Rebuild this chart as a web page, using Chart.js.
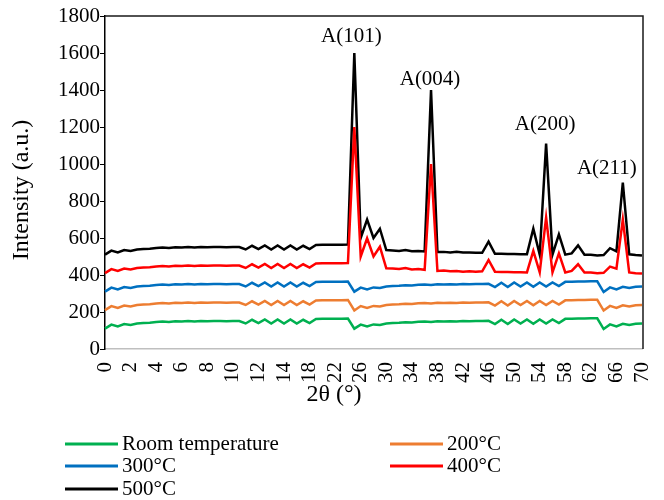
<!DOCTYPE html>
<html>
<head>
<meta charset="utf-8">
<script src="https://cdn.jsdelivr.net/npm/chart.js@4.4.1/dist/chart.umd.min.js"></script>
<style>
    html, body { margin: 0; padding: 0; background: #fff; }
</style>
</head>
<body>
<canvas id="xrdChart" width="664" height="500"></canvas>
<script>
// 2θ categories (0-14 in 0.5 steps, then 15-70 in 1 steps)
const angles = ['0','0.5','1','1.5','2','2.5','3','3.5','4','4.5','5','5.5','6','6.5','7','7.5','8','8.5','9','9.5','10','10.5','11','11.5','12','12.5','13','13.5','14',
    '15','16','17','18','19','20','21','22','23','24','25','26','27','28','29','30','31','32','33','34','35','36','37','38','39','40','41','42',
    '43','44','45','46','47','48','49','50','51','52','53','54','55','56','57','58','59','60','61','62','63','64','65','66','67','68','69','70'];

const roomTemp = [110,132,122,135,130,138,140,142,146,148,146,150,148,151,149,151,150,152,151,150,152,151,138,158,140,160,138,160,138,160,138,158,140,162,163,163,164,164,165,
    110,132,122,133,130,138,140,142,145,143,147,148,146,150,148,150,149,151,150,152,151,152,135,158,135,160,138,160,136,160,138,160,140,163,164,165,165,166,166,108,133,122,136,130,137,138];
const t200 = [210,232,222,235,230,238,240,242,246,248,246,250,248,251,249,251,250,252,251,250,252,251,238,258,240,260,238,260,238,260,238,258,240,262,263,263,264,264,265,
    208,232,222,233,230,238,240,242,245,243,247,248,246,250,248,250,249,251,250,252,251,252,235,258,235,260,238,260,236,260,238,260,240,263,264,265,265,266,266,208,233,222,236,230,237,238];
const t300 = [310,332,322,335,330,338,340,342,346,348,346,350,348,351,349,351,350,352,351,350,352,351,338,358,340,360,338,360,338,360,338,358,340,362,363,363,364,364,365,
    310,332,322,333,330,338,340,342,345,343,347,348,346,350,348,350,349,351,350,352,351,352,335,358,335,360,338,360,336,360,338,360,340,363,364,365,365,366,366,308,333,322,336,330,337,338];
const t400 = [410,432,422,435,430,438,440,442,446,448,446,450,448,451,449,451,450,452,451,450,452,451,438,458,440,460,438,460,438,460,438,458,440,462,463,463,464,464,465,
    1200,500,598,500,553,436,435,432,438,430,432,428,1000,422,424,420,422,418,420,418,420,481,418,416,416,415,415,414,530,414,710,414,517,414,422,458,414,414,410,412,445,434,700,414,410,408];
const t500 = [510,532,522,535,530,538,540,542,546,548,546,550,548,551,549,551,550,552,551,550,552,551,538,558,540,560,538,560,538,560,538,558,540,562,563,563,564,564,565,
    1600,600,700,600,650,535,533,530,535,528,530,527,1400,525,525,522,526,522,522,520,520,580,515,515,514,514,512,512,650,510,1110,510,620,510,517,560,510,510,506,508,545,528,900,512,508,505];

const yTicks = [0, 200, 400, 600, 800, 1000, 1200, 1400, 1600, 1800];

const peakLabels = ['A(101)', 'A(004)', 'A(200)', 'A(211)'];
const peakAngles = ['25', '37', '55', '67'];

const serif = "'Liberation Serif', 'Times New Roman', serif";
const labelShift = [[-3, 11], [-1, 5], [-1, 14], [-16, 9]];

// titles, peak names, plot frame and the two-column legend
const extras = {
    id: 'extras',
    beforeDatasetsDraw(chart) {
        const c = chart.ctx, a = chart.chartArea;
        c.save();
        c.strokeStyle = '#1a1a1a';
        c.lineWidth = 1.5;
        c.beginPath();
        c.moveTo(a.left, a.top);
        c.lineTo(a.right + 1, a.top);
        c.lineTo(a.right + 1, a.bottom);
        c.stroke();
        c.restore();
    },
    afterDraw(chart) {
        const c = chart.ctx;
        const xs = chart.scales.x, ys = chart.scales.y;
        c.save();
        c.fillStyle = '#000';

        // peak labels
        c.font = '21px ' + serif;
        c.textAlign = 'center';
        c.textBaseline = 'alphabetic';
        peakLabels.forEach((txt, k) => {
            const i = angles.indexOf(peakAngles[k]);
            const x = xs.getPixelForValue(i) + labelShift[k][0];
            const y = ys.getPixelForValue(t500[i]) - labelShift[k][1];
            c.fillText(txt, x, y);
        });

        // axis titles
        c.font = '24px ' + serif;
        c.textBaseline = 'middle';
        c.fillText('2θ (°)', 334, 395);
        c.save();
        c.translate(22, 190);
        c.rotate(-Math.PI / 2);
        c.fillText('Intensity (a.u.)', 0, 0);
        c.restore();

        // legend
        const cols = [65, 390], rows = [444, 466, 489];
        c.font = '21px ' + serif;
        c.textAlign = 'left';
        chart.data.datasets.forEach((ds, k) => {
            const x = cols[k % 2], y = rows[Math.floor(k / 2)];
            c.strokeStyle = ds.borderColor;
            c.lineWidth = 3;
            c.beginPath();
            c.moveTo(x, y);
            c.lineTo(x + 53, y);
            c.stroke();
            c.fillText(ds.label, x + 57, y);
        });
        c.restore();
    }
};

const ctx = document.getElementById('xrdChart').getContext('2d');
const myChart = new Chart(ctx, {
    type: 'line',
    data: {
        labels: angles,
        datasets: [
            { label: 'Room temperature', data: roomTemp, borderColor: '#00B050' },
            { label: '200°C', data: t200, borderColor: '#ED7D31' },
            { label: '300°C', data: t300, borderColor: '#0070C0' },
            { label: '400°C', data: t400, borderColor: '#FF0000' },
            { label: '500°C', data: t500, borderColor: '#000000' }
        ]
    },
    options: {
        responsive: false,
        animation: false,
        layout: { padding: { top: 16, right: 22, left: 0, bottom: 0 } },
        elements: {
            line: { borderWidth: 2.5, tension: 0, fill: false },
            point: { radius: 0 }
        },
        plugins: {
            legend: { display: false },
            tooltip: { enabled: false }
        },
        scales: {
            x: {
                type: 'category',
                offset: false,
                grid: { drawOnChartArea: false, drawTicks: false },
                border: { color: '#bfbfbf', width: 1.5 },
                ticks: {
                    autoSkip: false,
                    minRotation: 90,
                    maxRotation: 90,
                    padding: 13,
                    color: '#000',
                    font: { family: serif, size: 21 },
                    callback: (v, i) => (i % 4 === 0 ? angles[i] : '')
                },
                afterFit(scale) {
                    scale.height = 151;
                    scale.paddingLeft = 0;
                    scale.paddingRight = 0;
                }
            },
            y: {
                min: 0,
                max: 1800,
                afterBuildTicks(scale) { scale.ticks = yTicks.map(v => ({ value: v })); },
                grid: { drawOnChartArea: false, drawTicks: true, tickLength: 5, color: '#000' },
                border: { color: '#000', width: 1.5 },
                ticks: {
                    padding: 0,
                    color: '#000',
                    font: { family: serif, size: 21 },
                    callback: v => String(v)
                },
                afterFit(scale) {
                    scale.width = 105;
                    scale.paddingTop = 0;
                    scale.paddingBottom = 0;
                }
            }
        }
    },
    plugins: [extras]
});
</script>
</body>
</html>
